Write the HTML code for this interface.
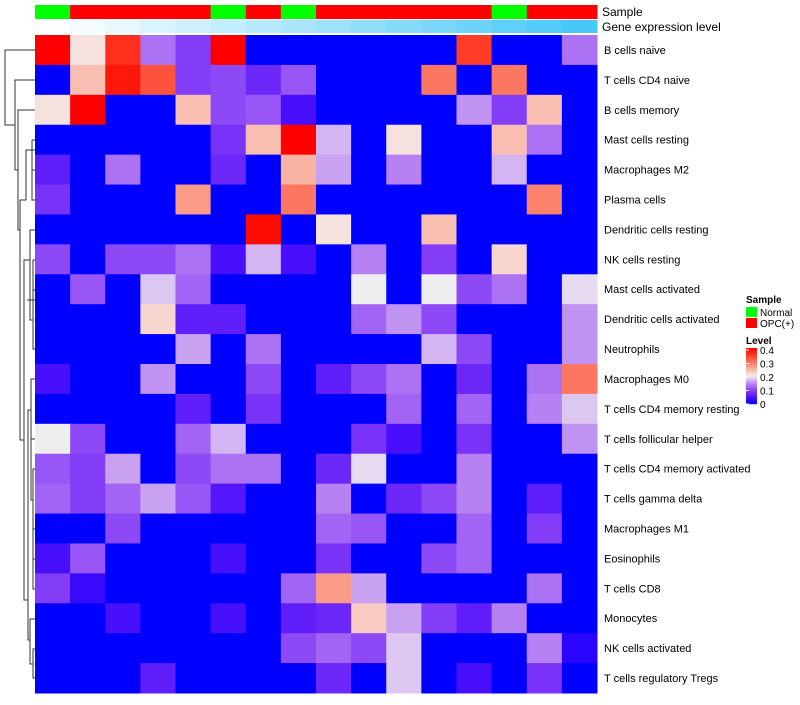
<!DOCTYPE html>
<html><head><meta charset="utf-8"><style>
body{margin:0;background:#fff;font-family:"Liberation Sans",sans-serif;}
svg text{font-family:"Liberation Sans",sans-serif;}
</style></head><body>
<svg id="chart" width="800" height="700" xmlns="http://www.w3.org/2000/svg">
<g id="dendro" stroke="#333" stroke-width="1" fill="none">
<path d="M35,50H5V125H15"/>
<path d="M35,80H15V170H18"/>
<path d="M35,110H18V230H20"/>
<path d="M20,230V200H26M20,230V440H24"/>
<path d="M26,200V150H32V200H35M32,150H35"/>
<path d="M35,140H32M32,150V140M35,170H32V160"/>
<path d="M24,440V260H30M24,440V600H28"/>
<path d="M30,260V230H35M30,260V320H33"/>
<path d="M35,260H33V300H27M33,320V290H35M33,320V349H35M27,300H35"/>
<path d="M28,600V410H31M28,600V640H30"/>
<path d="M31,410V379H35M31,410V439H35M31,410V500H33V469H35M33,500V529H35M33,500V559H35M33,500V589H35"/>
<path d="M30,640V619H35M30,640V664H33V649H35M33,664V678H35"/>
</g>
<g id="cells"></g>
<g id="annot"></g>
<text x="602" y="16" font-size="12">Sample</text>
<text x="602" y="31" font-size="12">Gene expression level</text>
<g id="rowlabels"></g>
<g font-size="10">
<text x="746" y="303" font-weight="bold">Sample</text>
<rect x="746" y="307" width="11" height="10" fill="#00ff00"/>
<text x="760" y="316">Normal</text>
<rect x="746" y="318" width="11" height="10" fill="#ff0000"/>
<text x="760" y="327">OPC(+)</text>
<text x="746" y="344" font-weight="bold">Level</text>
<g id="cbar"></g>
<g id="cbticks"></g>
</g>
</svg>
<script>
const rowNames=["B cells naive","T cells CD4 naive","B cells memory","Mast cells resting","Macrophages M2","Plasma cells","Dendritic cells resting","NK cells resting","Mast cells activated","Dendritic cells activated","Neutrophils","Macrophages M0","T cells CD4 memory resting","T cells follicular helper","T cells CD4 memory activated","T cells gamma delta","Macrophages M1","Eosinophils","T cells CD8","Monocytes","NK cells activated","T cells regulatory  Tregs"];
const sampleGroups=["Normal","OPC","OPC","OPC","OPC","Normal","OPC","Normal","OPC","OPC","OPC","OPC","OPC","Normal","OPC","OPC"];
const geneLevel=[0,1,2,3,4,5,6,7,8,9,10,11,12,13,14,15];
const levelTicks=[0,0.1,0.2,0.3,0.4];
const r01=[.4,.21,.36,.13,.09,.4,0,0,0,0,0,0,.35,0,0,.13];
const r02=[0,.24,.38,.33,.09,.1,.07,.11,0,0,0,.3,0,.3,0,0];
const r03=[.21,.4,0,0,.24,.1,.11,.04,0,0,0,0,.15,.09,.24,0];
const r04=[0,0,0,0,0,.08,.24,.4,.17,0,.21,0,0,.24,.13,0];
const r05=[.06,0,.13,0,0,.07,0,.25,.16,0,.14,0,0,.17,0,0];
const r06=[.08,0,0,0,.27,0,0,.3,0,0,0,0,0,0,.29,0];
const r07=[0,0,0,0,0,0,.39,0,.21,0,0,.24,0,0,0,0];
const r08=[.1,0,.1,.1,.13,.04,.17,.04,0,.14,0,.09,0,.22,0,0];
const r09=[0,.11,0,.18,.12,0,0,0,0,.2,0,.2,.1,.13,0,.19];
const r10=[0,0,0,.22,.06,.06,0,0,0,.12,.15,.1,0,0,0,.15];
const r11=[0,0,0,0,.16,0,.13,0,0,0,0,.17,.1,0,0,.15];
const r12=[.04,0,0,.15,0,0,.1,0,.06,.1,.13,0,.07,0,.13,.3];
const r13=[0,0,0,0,.06,0,.08,0,0,0,.12,0,.12,0,.14,.18];
const r14=[.2,.1,0,0,.12,.17,0,0,0,.08,.04,0,.08,0,0,.15];
const r15=[.11,.09,.16,0,.1,.13,.13,0,.07,.19,0,0,.14,0,0,0];
const r16=[.12,.09,.12,.16,.11,.05,0,0,.14,0,.07,.1,.14,0,.06,0];
const r17=[0,0,.1,0,0,0,0,0,.12,.11,0,0,.12,0,.09,0];
const r18=[.04,.11,0,0,0,.04,0,0,.08,0,0,.1,.12,0,0,0];
const r19=[.09,.03,0,0,0,0,0,.12,.27,.16,0,0,0,0,.13,0];
const r20=[0,0,.04,0,0,.04,0,.06,.07,.23,.16,.09,.06,.14,0,0];
const r21=[0,0,0,0,0,0,0,.1,.12,.1,.18,0,0,0,.14,.02];
const r22=[0,0,0,.06,0,0,0,0,.07,0,.18,0,.04,0,.08,0];
const values=[r01,r02,r03,r04,r05,r06,r07,r08,r09,r10,r11,r12,r13,r14,r15,r16,r17,r18,r19,r20,r21,r22];

const NS="http://www.w3.org/2000/svg";
const x0=35,x1=597,y0=35,y1=693;
const ncol=values[0].length,nrow=values.length;
const cw=(x1-x0)/ncol,rh=(y1-y0)/nrow;
const xPos=c=>x0+c*cw, yPos=r=>y0+r*rh;
function colorFor(v){
  const t=Math.max(0,Math.min(1,v/0.4));
  if(t<0.5){const s=t/0.5;
    return `rgb(${Math.round(238*Math.pow(s,0.75))},${Math.round(238*Math.pow(s,1.7))},${Math.round(255-17*s)})`;}
  const s=(t-0.5)/0.5;
  return `rgb(${Math.round(238+17*Math.pow(s,0.3))},${Math.round(238*Math.pow(1-s,1.0))},${Math.round(238*Math.pow(1-s,1.3))})`;
}
function mk(tag,attrs,parent){const e=document.createElementNS(NS,tag);for(const k in attrs)e.setAttribute(k,attrs[k]);parent.appendChild(e);return e;}
const cells=document.getElementById('cells');
values.forEach((row,r)=>row.forEach((v,c)=>{
  const e=mk('rect',{x:xPos(c),y:yPos(r),width:cw+0.5,height:rh+0.5,fill:colorFor(v)},cells);
  
  
}));
const annot=document.getElementById('annot');
sampleGroups.forEach((g,c)=>{
  const e=mk('rect',{x:xPos(c),y:5,width:cw+0.5,height:14,fill:g==="Normal"?"#00ff00":"#ff0000"},annot);
  
  
});
const gmax=Math.max(...geneLevel);
function lerp(a,b,t){return Math.round(a+(b-a)*t);}
geneLevel.forEach((g,c)=>{
  const t=g/gmax;
  const e=mk('rect',{x:xPos(c),y:20,width:cw+0.5,height:13,fill:`rgb(${lerp(255,72,t)},${lerp(255,200,t)},${lerp(255,248,t)})`},annot);
  
  
});
const rl=document.getElementById('rowlabels');
rowNames.forEach((n,r)=>{
  const e=mk('text',{x:604,y:yPos(r)+rh/2+4,'font-size':11},rl);
  e.textContent=n;
  
  
});
const cbar=document.getElementById('cbar');
for(let i=0;i<56;i++){
  const v=0.4*(1-i/55);
  const e=mk('rect',{x:746,y:348+i,width:11,height:1.2,fill:colorFor(v)},cbar);
  
  
}
const cb=document.getElementById('cbticks');
levelTicks.forEach(v=>{
  const y=404-v/0.4*54;
  const e=mk('text',{x:760,y:y+4,'font-size':10},cb);
  e.textContent=v===0?"0":String(v);
  
  
  const l=mk('line',{x1:746,x2:749,y1:y,y2:y,stroke:"#fff"},cb);
  
  
});
</script>
</body></html>
